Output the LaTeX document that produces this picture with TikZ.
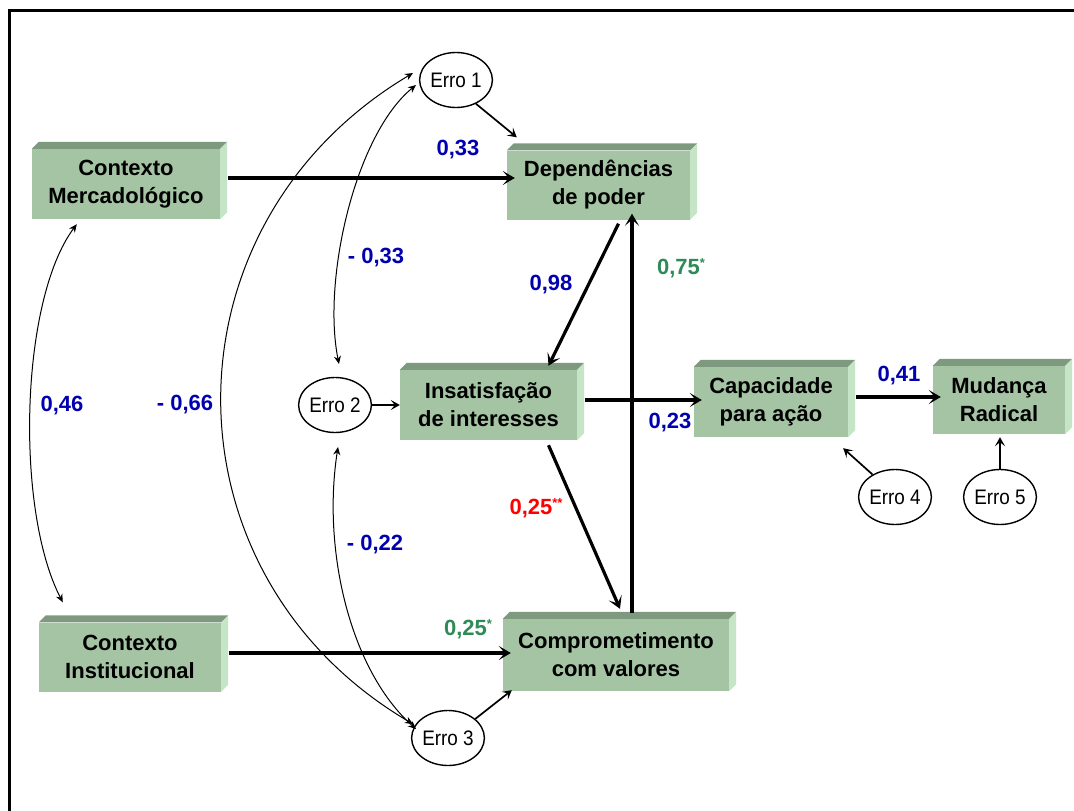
\documentclass[tikz,border=0pt]{standalone}
\usepackage{fontspec}
\setmainfont{Liberation Sans}
\newfontfamily\errofont[FakeStretch=0.9]{Liberation Sans}
\usetikzlibrary{arrows.meta,shapes.geometric}

\definecolor{boxfront}{RGB}{164,196,164}
\definecolor{boxtop}{RGB}{126,154,126}
\definecolor{boxside}{RGB}{198,228,198}
\definecolor{coefblue}{RGB}{0,0,176}
\definecolor{coefgreen}{RGB}{46,139,87}
\definecolor{coefred}{RGB}{255,0,0}

% bevelled top and right faces of a construct box
\newcommand\boxfaces[1]{%
  \fill[boxtop] (#1.north west) -- ([shift={(7,-7)}]#1.north west)
    -- ([shift={(7,-7)}]#1.north east) -- (#1.north east) -- cycle;
  \fill[boxside] (#1.north east) -- ([shift={(7,-7)}]#1.north east)
    -- ([shift={(7,-7)}]#1.south east) -- (#1.south east) -- cycle;}
\newcommand\sstar[1]{\raisebox{7pt}{\fontsize{13}{13}\selectfont #1}}

\tikzset{
  construct/.style={rectangle, fill=boxfront, inner sep=0pt, align=center,
    font=\fontsize{22}{28}\selectfont\bfseries},
  errnode/.style={ellipse, draw, fill=white, line width=1.4pt, minimum width=67pt,
    minimum height=55pt, inner sep=0pt, font=\errofont\fontsize{21}{22}\selectfont},
  effect/.style={line width=3.2pt, -{Stealth[length=12pt,width=14pt,inset=6pt]}},
  errarrow/.style={line width=1.7pt, -{Stealth[length=9pt,width=10pt,inset=4pt]}},
  covar/.style={line width=1pt,
    {Stealth[length=8pt,width=7pt]}-{Stealth[length=8pt,width=7pt]}},
  coef/.style={font=\fontsize{22}{23}\selectfont\bfseries, inner sep=0pt},
}

\begin{document}
\begin{tikzpicture}[x=1pt, y=-1pt]
\useasboundingbox (0,0) rectangle (1074,811);
\fill[white] (0,0) rectangle (1074,811);

% frame
\draw[line width=3pt] (9.5,830) -- (9.5,10.5) -- (1090,10.5);

% constructs
\node[construct, minimum width=188pt, minimum height=70pt] (cm) at (126,184) {Contexto\\Mercadológico};
\node[construct, minimum width=182pt, minimum height=69pt] (ci) at (130,657) {Contexto\\Institucional};
\node[construct, minimum width=183pt, minimum height=69pt] (dp) at (598.5,185) {Dependências\\de poder};
\node[construct, minimum width=177pt, minimum height=70pt] (ii) at (488.5,405) {Insatisfação\\de interesses};
\node[construct, minimum width=226pt, minimum height=72pt] (cv) at (616,655) {Comprometimento\\com valores};
\node[construct, minimum width=154pt, minimum height=70pt] (ca) at (771,402) {Capacidade\\para ação};
\node[construct, minimum width=132pt, minimum height=68pt] (mr) at (999,400) {Mudança\\Radical};
\boxfaces{cm}\boxfaces{ci}\boxfaces{dp}\boxfaces{ii}\boxfaces{cv}\boxfaces{ca}\boxfaces{mr}

% error terms
\node[errnode] (e1) at (456,80) {Erro 1};
\node[errnode] (e2) at (335,405) {Erro 2};
\node[errnode] (e3) at (448,738) {Erro 3};
\node[errnode] (e4) at (895,497) {Erro 4};
\node[errnode] (e5) at (1000,497) {Erro 5};

% structural paths
\draw[effect] ([shift={(8,-6)}]cm.east) -- ([shift={(8,-6)}]cm.east -| dp.west);
\draw[effect] ([shift={(8,-4)}]ci.east) -- ([shift={(8,-4)}]ci.east -| cv.west);
\draw[effect] ([shift={(20,4)}]dp.south) -- ([shift={(60,-4)}]ii.north);
\draw[effect] ([shift={(16,-6)}]cv.north) -- ([shift={(16,-6)}]cv.north |- dp.south);
\draw[effect] ([shift={(60,5)}]ii.south) -- ([shift={(4,-10)}]cv.north);
\draw[effect] ([shift={(8,-5)}]ii.east) -- ([shift={(8,-5)}]ii.east -| ca.west);
\draw[effect] ([shift={(8,-5)}]ca.east) -- ([shift={(8,-5)}]ca.east -| mr.west);

% disturbances
\draw[errarrow] (e1.-50) -- ([shift={(10,-13)}]dp.north west);
\draw[errarrow] (e2.east) -- (ii.west);
\draw[errarrow] (e3.35) -- ([shift={(9,-1)}]cv.south west);
\draw[errarrow] (e4.135) -- ([shift={(-5,11)}]ca.south east);
\draw[errarrow] (e5.north) -- ([yshift=-3pt]e5.north |- mr.south);

% correlations
\draw[covar] ([shift={(45,5)}]cm.south west) .. controls (20,300) and (15,510) .. ([shift={(24,-20)}]ci.north west);
\draw[covar] ([shift={(-43,-7)}]e1.center) .. controls (158,225) and (158,574) .. ([shift={(-35,-14)}]e3.center);
\draw[covar] ([shift={(-40,5)}]e1.center) .. controls (355,135) and (322,280) .. ([shift={(4,-41)}]e2.center);
\draw[covar] ([shift={(3,42)}]e2.center) .. controls (322,550) and (350,670) .. ([shift={(-32,-9)}]e3.center);

% coefficients
\node[coef, text=coefblue] (k1) at (458,150) {0,33};
\node[coef, text=coefblue] (k2) at (376,258) {- 0,33};
\node[coef, text=coefblue] (k3) at (551,285) {0,98};
\node[coef, text=coefgreen] (k4) at (681,268) {0,75\sstar{*}};
\node[coef, text=coefblue] (k5) at (62,406) {0,46};
\node[coef, text=coefblue] (k6) at (185,405) {- 0,66};
\node[coef, text=coefblue] (k7) at (670,423) {0,23};
\node[coef, text=coefblue] (k8) at (899,376) {0,41};
\node[coef, text=coefred] (k9) at (536,508) {0,25\sstar{**}};
\node[coef, text=coefblue] (k10) at (375,545) {- 0,22};
\node[coef, text=coefgreen] (k11) at (468,629) {0,25\sstar{*}};
\end{tikzpicture}
\end{document}
